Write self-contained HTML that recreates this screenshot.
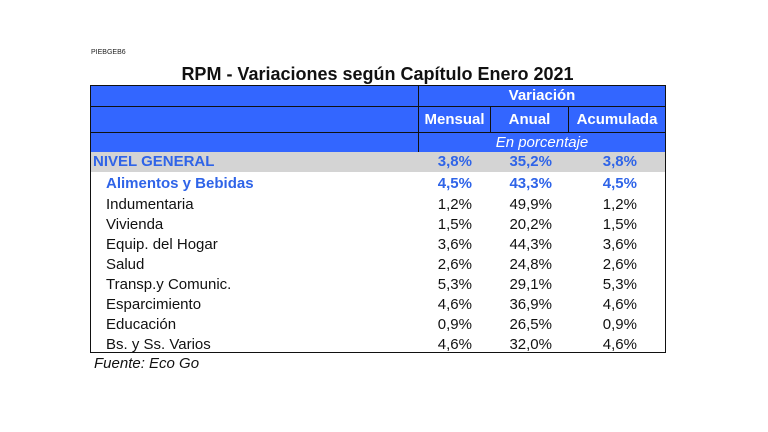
<!DOCTYPE html>
<html><head><meta charset="utf-8"><style>
body{margin:0;width:768px;height:432px;background:#fff;position:relative;overflow:hidden;font-family:"Liberation Sans",Arial,sans-serif}
.a{position:absolute;white-space:nowrap}
.blue{background:#3366ff;border:1px solid #111;box-sizing:border-box}
.h{color:#fff;font-weight:bold;font-size:15px;text-align:center;line-height:20px}
.lab{font-size:15px;line-height:20px;color:#111}
.v{font-size:15px;line-height:20px;text-align:right;color:#111}
</style></head><body>
<div class="a" style="left:91px;top:49px;font-size:7px;color:#222">PIEBGEB6</div>
<div class="a" style="left:0;width:755px;top:64px;text-align:center;font-size:18px;font-weight:bold;color:#111">RPM - Variaciones según Capítulo Enero 2021</div>
<div>
<div class="a blue" style="left:90px;top:85px;width:329px;height:22px"></div>
<div class="a blue h" style="left:418px;top:85px;width:248px;height:22px">Variación</div>
<div class="a blue" style="left:90px;top:106px;width:329px;height:27px"></div>
<div class="a blue h" style="left:418px;top:106px;width:73px;height:27px;line-height:25px">Mensual</div>
<div class="a blue h" style="left:490px;top:106px;width:79px;height:27px;line-height:25px">Anual</div>
<div class="a blue h" style="left:568px;top:106px;width:98px;height:27px;line-height:25px">Acumulada</div>
<div class="a blue" style="left:90px;top:132px;width:329px;height:21px"></div>
<div class="a blue h" style="left:418px;top:132px;width:248px;height:21px;font-weight:normal;font-style:italic;line-height:19px">En porcentaje</div>
</div>
<div class="a" style="left:90px;top:152px;width:576px;height:201px;border:1px solid #111;border-top:none;box-sizing:border-box"></div>
<div class="a" style="left:91px;top:152px;width:574px;height:20px;background:#d4d4d4"></div>
<div id="rows"></div>
<div class="a" style="left:94px;top:355px;font-size:15px;font-style:italic;color:#111">Fuente: Eco Go</div>
<script>
const categories=["NIVEL GENERAL","Alimentos y Bebidas","Indumentaria","Vivienda","Equip. del Hogar","Salud","Transp.y Comunic.","Esparcimiento","Educación","Bs. y Ss. Varios"];
const mensual=["3,8%","4,5%","1,2%","1,5%","3,6%","2,6%","5,3%","4,6%","0,9%","4,6%"];
const anual=["35,2%","43,3%","49,9%","20,2%","44,3%","24,8%","29,1%","36,9%","26,5%","32,0%"];
const acumulada=["3,8%","4,5%","1,2%","1,5%","3,6%","2,6%","5,3%","4,6%","0,9%","4,6%"];
const root=document.getElementById('rows');
categories.forEach((c,i)=>{
  const row=document.createElement('div');
  
  
  const col=i<2?'#2f64e8':'#111';const fw=i<2?'bold':'normal';
  const yy=i==0?152:i==1?174:175+(i-1)*19.95;
  const mk=(txt,left,w,cls,name)=>{const d=document.createElement('div');d.className='a '+cls;d.style.left=left+'px';d.style.top=yy+'px';if(w)d.style.width=w+'px';d.style.color=col;d.style.fontWeight=fw;d.textContent=txt;
    
    
    row.appendChild(d);};
  mk(c,i==0?93:106,0,'lab','row-label');
  mk(mensual[i],400,72,'v','mensual-value');
  mk(anual[i],470,82,'v','anual-value');
  mk(acumulada[i],560,77,'v','acumulada-value');
  root.appendChild(row);
});
</script>
</body></html>
